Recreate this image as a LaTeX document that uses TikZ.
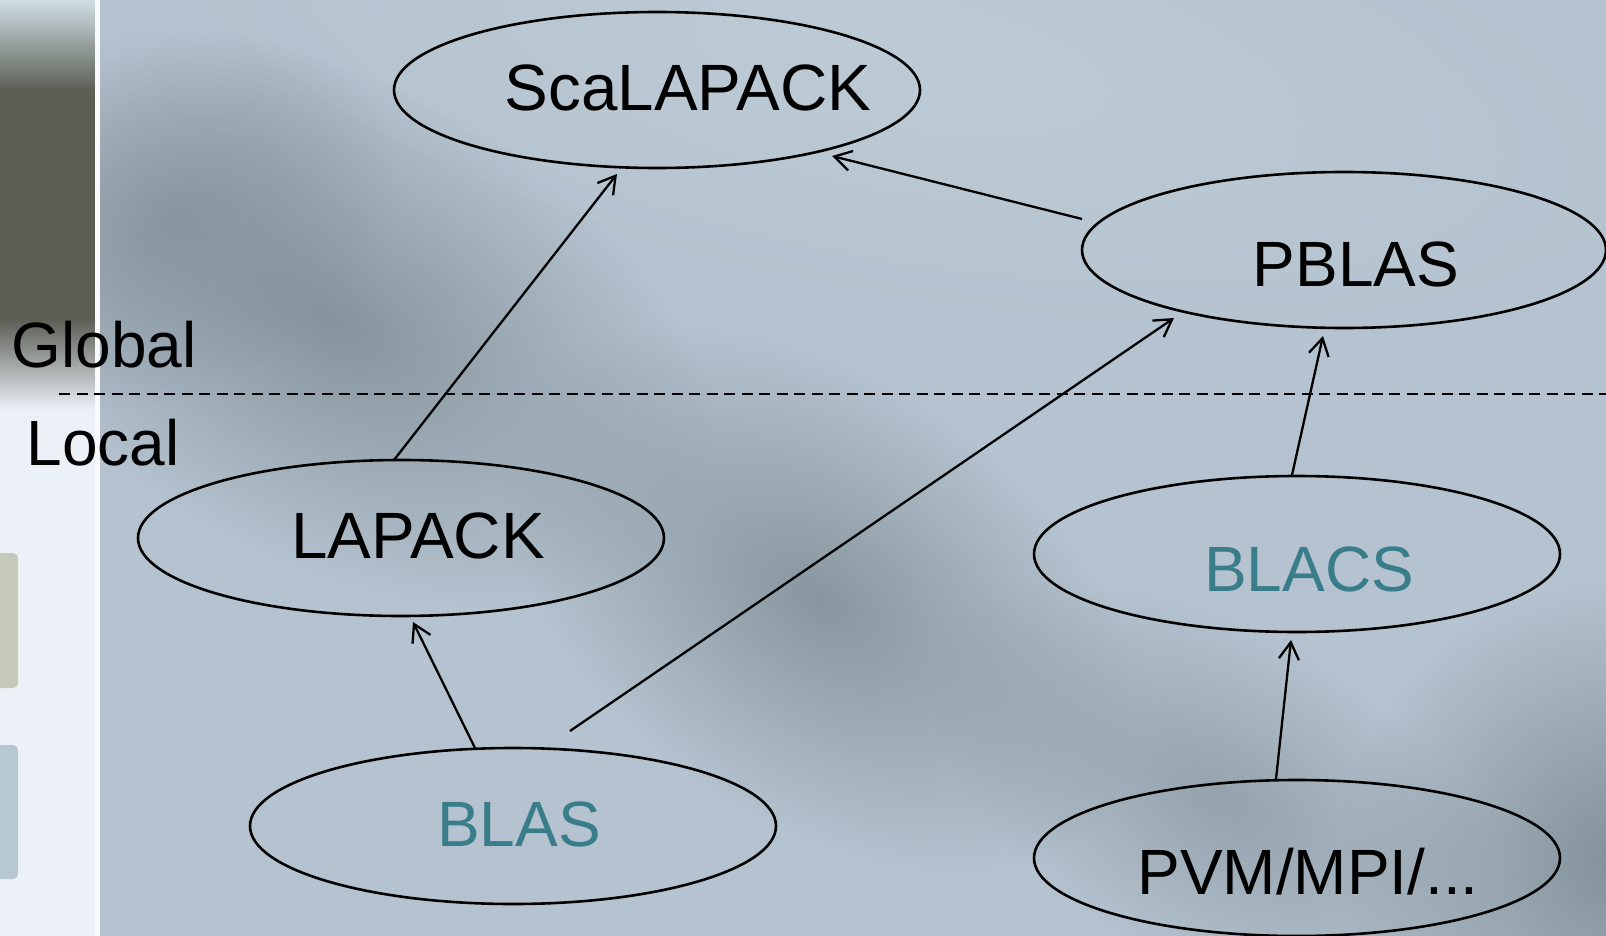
\documentclass[tikz,border=0pt]{standalone}
\usepackage{fontspec}
\setmainfont{Liberation Sans}
\usetikzlibrary{shapes.geometric,arrows.meta,fadings}
\tikzfading[name=softblob, inner color=transparent!0, outer color=transparent!100]
\definecolor{bgc}{RGB}{180,195,207}
\definecolor{bglight}{RGB}{190,204,214}
\definecolor{smudge}{RGB}{122,136,144}
\definecolor{tealc}{RGB}{58,125,138}
\definecolor{stripdark}{RGB}{92,95,86}
\definecolor{striplight}{RGB}{236,241,248}
\definecolor{striptop}{RGB}{208,222,228}
\definecolor{tabA}{RGB}{198,202,186}
\definecolor{tabB}{RGB}{184,200,208}
\tikzset{
  lib/.style={draw=black, line width=2.6pt, ellipse, minimum width=526pt, minimum height=156pt, inner sep=0pt},
  txt/.style={font=\fontsize{64}{70}\selectfont, text=black, inner sep=0pt},
  bigtxt/.style={font=\fontsize{65.5}{70}\selectfont, text=black, inner sep=0pt},
  tealtxt/.style={txt, text=tealc},
  conn/.style={draw=black, line width=2.3pt, -{Straight Barb[length=17pt,width=20pt,line width=2.3pt]}},
  divider/.style={draw=black, line width=2.3pt, dash pattern=on 11pt off 6.5pt},
  blob/.style={fill=smudge, path fading=softblob}
}
\newcommand{\smudgeat}[6]{%
  \begin{scope}[transform canvas={rotate around={#4:(#1,#2)}}]
    \fill[blob, opacity=#5] (#1,#2) ellipse (#3 and #6);
  \end{scope}}
\begin{document}
\begin{tikzpicture}[x=1pt,y=-1pt]
\useasboundingbox (0,0) rectangle (1606,936);
% background
\fill[bgc] (0,0) rectangle (1606,936);
\begin{scope}[transform canvas={rotate around={-10:(900,60)}}]
  \fill[bglight, path fading=softblob, opacity=0.9] (900,60) ellipse (800 and 260);
\end{scope}
\smudgeat{330}{320}{420}{-28}{0.8}{240}
\smudgeat{170}{220}{170}{-60}{0.55}{240}
\smudgeat{820}{600}{360}{-35}{0.75}{220}
\smudgeat{1220}{800}{320}{-30}{0.55}{170}
\smudgeat{1620}{860}{280}{0}{0.85}{280}
% left strip
\shade[top color=striptop, bottom color=stripdark] (0,0) rectangle (95,90);
\fill[stripdark] (0,90) rectangle (95,320);
\shade[top color=stripdark, bottom color=striplight] (0,320) rectangle (95,410);
\fill[striplight] (0,410) rectangle (95,936);
\fill[white!92!bgc] (95,0) rectangle (100,936);
\fill[tabA, rounded corners=5pt] (-10,553) rectangle (18,688);
\fill[tabB, rounded corners=5pt] (-10,745) rectangle (18,879);
% divider
\coordinate (divL) at (59,394);
\coordinate (divR) at (1606,394);
\draw[divider] (divL) -- (divR);
\node[txt] (global) at (104,345) {Global};
\node[txt] (local) at (103,443) {Local};
% libraries
\node[lib, label={[bigtxt, shift={(31,-2)}]center:ScaLAPACK}] (sca) at (657,90) {};
\node[lib, minimum width=524pt, label={[txt, shift={(12,14)}]center:PBLAS}] (pblas) at (1344,250) {};
\node[lib, label={[bigtxt, shift={(17,-2)}]center:LAPACK}] (lapack) at (401,538) {};
\node[lib, label={[tealtxt, shift={(6,-2)}]center:BLAS}] (blas) at (513,826) {};
\node[lib, label={[tealtxt, shift={(12,15)}]center:BLACS}] (blacs) at (1297,554) {};
\node[lib, label={[txt, shift={(11,14)}]center:PVM/MPI/...}] (pvm) at (1297,858) {};
% connectors
\draw[conn] ([shift={(-7,-78)}]lapack.center) -- ([shift={(-40,84)}]sca.center);
\draw[conn] ([shift={(-262,-31)}]pblas.center) -- ([shift={(175,66)}]sca.center);
\draw[conn] ([shift={(57,-95)}]blas.center) -- ([shift={(-170,68)}]pblas.center);
\draw[conn] ([shift={(-38,-78)}]blas.center) -- ([shift={(12,84)}]lapack.center);
\draw[conn] ([shift={(-5,-79)}]blacs.center) -- ([shift={(-21,86)}]pblas.center);
\draw[conn] ([shift={(-21,-79)}]pvm.center) -- ([shift={(-6,86)}]blacs.center);
\end{tikzpicture}
\end{document}
